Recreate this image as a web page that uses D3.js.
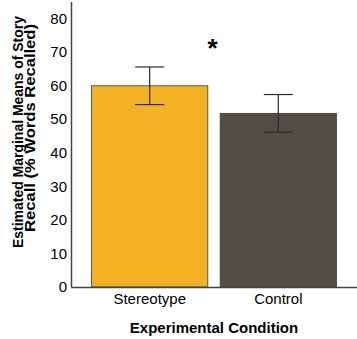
<!DOCTYPE html>
<html>
<head>
<meta charset="utf-8">
<script src="https://cdn.jsdelivr.net/npm/d3@7"></script>
<style>
  body { margin: 0; background: #fff; }
  text { font-family: "Liberation Sans", Arial, sans-serif; fill: #000; }
</style>
</head>
<body>
<svg id="chart" width="357" height="339"></svg>
<script>
const categories = ["Stereotype", "Control"];
const means = [59.9, 51.7];
const errors = [5.6, 5.6];
const colors = ["#F3B224", "#544D43"];
const yTicks = [0, 10, 20, 30, 40, 50, 60, 70, 80];
const yTitle = ["Estimated Marginal Means of Story", "Recall (% Words Recalled)"];
const xTitle = "Experimental Condition";

const svg = d3.select("#chart");
const plotLeft = 71, plotRight = 357, plotTop = 1.5, plotBottom = 287;

const x = d3.scaleBand()
  .domain(categories)
  .range([plotLeft, plotRight])
  .paddingInner(0.096)
  .paddingOuter(0.16);

const y = d3.scaleLinear()
  .domain([0, 85])
  .range([plotBottom, plotTop]);

// bars
svg.append("g").selectAll("rect")
  .data(categories)
  .enter().append("rect")
  .attr("x", d => x(d))
  .attr("y", (d, i) => y(means[i]))
  .attr("width", x.bandwidth())
  .attr("height", (d, i) => y(0) - y(means[i]))
  .attr("fill", (d, i) => colors[i])
  .attr("stroke", "#3a3a3a")
  .attr("stroke-width", 0.8);

// error bars
const capW = 29;
const eb = svg.append("g").attr("stroke", "#2b2b2b").attr("stroke-width", 1.2);
categories.forEach((c, i) => {
  const cx = x(c) + x.bandwidth() / 2;
  const hi = y(means[i] + errors[i]), lo = y(means[i] - errors[i]);
  eb.append("line").attr("x1", cx).attr("x2", cx).attr("y1", hi).attr("y2", lo);
  eb.append("line").attr("x1", cx - capW / 2).attr("x2", cx + capW / 2).attr("y1", hi).attr("y2", hi);
  eb.append("line").attr("x1", cx - capW / 2).attr("x2", cx + capW / 2).attr("y1", lo).attr("y2", lo);
});

// axes
const yAxis = svg.append("g")
  .attr("transform", `translate(${plotLeft},0)`)
  .call(d3.axisLeft(y).tickValues(yTicks).tickSize(0).tickPadding(4));
yAxis.select(".domain").attr("stroke", "#444").attr("stroke-width", 1.5);
yAxis.selectAll("text").style("font-size", "15px");

const xAxis = svg.append("g")
  .attr("transform", `translate(0,${plotBottom})`)
  .call(d3.axisBottom(x).tickSize(0).tickPadding(6));
xAxis.select(".domain").attr("stroke", "#444").attr("stroke-width", 1.5);
xAxis.selectAll("text").style("font-size", "15px");

// significance marker
svg.append("text")
  .attr("x", (x("Stereotype") + x.bandwidth() + x("Control")) / 2 - 1.5)
  .attr("y", y(68.4))
  .attr("text-anchor", "middle")
  .style("font-size", "26px")
  .style("font-weight", "bold")
  .text("*");

// titles
svg.append("text")
  .attr("x", (plotLeft + plotRight) / 2)
  .attr("y", 333)
  .attr("text-anchor", "middle")
  .style("font-size", "15px")
  .style("font-weight", "bold")
  .text(xTitle);

// y title: two lines, fitted to the lengths seen in the original
const yLines = [
  { cx: 23, cy: 132, len: 232 },
  { cx: 35, cy: 128, len: 208 }
];
yTitle.forEach((t, i) => {
  svg.append("text")
    .attr("transform", `translate(${yLines[i].cx},${yLines[i].cy}) rotate(-90)`)
    .attr("text-anchor", "middle")
    .attr("textLength", yLines[i].len)
    .attr("lengthAdjust", "spacingAndGlyphs")
    .style("font-size", "14.5px")
    .style("font-weight", "bold")
    .text(t);
});
</script>
</body>
</html>
